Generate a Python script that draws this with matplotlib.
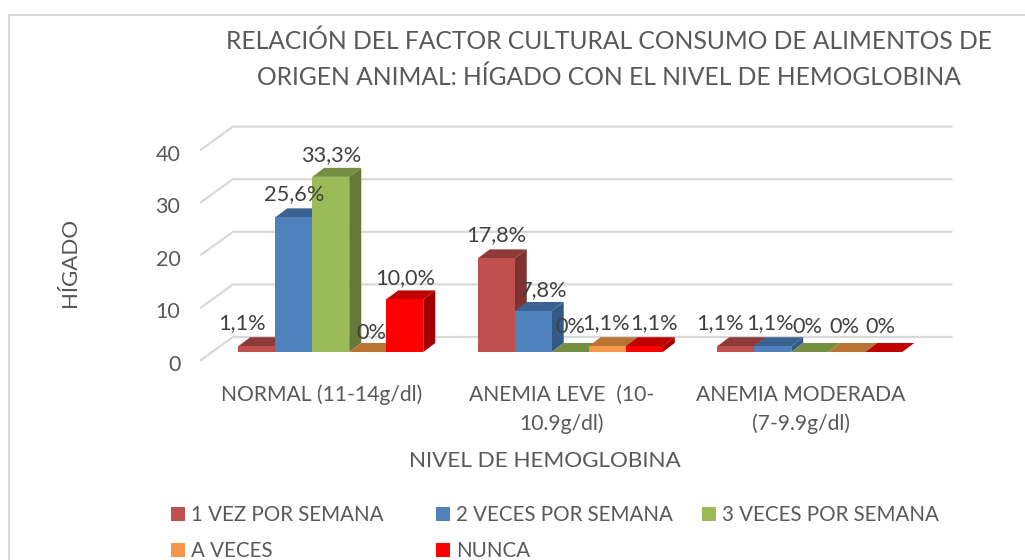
import matplotlib
matplotlib.use('Agg')
import matplotlib.pyplot as plt
from matplotlib.patches import Polygon, Rectangle, Patch
from matplotlib.transforms import ScaledTranslation

categories = ['NORMAL (11-14g/dl)', 'ANEMIA LEVE  (10-\n10.9g/dl)', 'ANEMIA MODERADA\n(7-9.9g/dl)']
series_names = ['1 VEZ POR SEMANA', '2 VECES POR SEMANA', '3 VECES POR SEMANA', 'A VECES', 'NUNCA']
una_vez = [1.1, 17.8, 1.1]
dos_veces = [25.6, 7.8, 1.1]
tres_veces = [33.3, 0, 0]
a_veces = [0, 1.1, 0]
nunca = [10.0, 1.1, 0]
y_ticks = [0, 10, 20, 30, 40]

# front, top, side
colors = [('#C0504D', '#8E3A38', '#7E3331'),
          ('#4F81BD', '#3B6391', '#335A86'),
          ('#9BBB59', '#748E42', '#64793A'),
          ('#F79646', '#B97332', '#A8652C'),
          ('#FF0000', '#C00000', '#A00000')]

# hand placed data labels, pixels from the top centre of each bar (series, group)
label_dx = [[-15, 0, -16], [0, 10, -3], [0, 0, -2], [4, -1, -2], [0, 10, -3]]
label_dy = [[23, 23, 23], [23, 21, 23], [22, 25, 25], [19, 23, 25], [21, 23, 25]]

# legend columns, left edge in pixels
legend_cols = [(171, [0, 3]), (436, [1, 4]), (702, [2])]

W, H = 1025, 560
px_x = 239.5   # pixels per category
px_y = 5.26    # pixels per value unit
bar_w = 37 / px_x


def dx(p):
    return p / px_x


def dy(p):
    return p / px_y


def fmt(v):
    if v == 0:
        return '0%'
    return ('%.1f%%' % v).replace('.', ',')


def main():
    plt.rcParams['font.family'] = ['Lato', 'DejaVu Sans']
    fig = plt.figure(figsize=(W / 100, H / 100), dpi=100)
    # value 0 sits at y=352, first category edge at x=211
    ax = fig.add_axes([211 / W, (H - 352) / H, 718.5 / W, 40 * px_y / H])
    ax.set_xlim(-0.5, 2.5)
    ax.set_ylim(0, 40)
    for s in ax.spines.values():
        s.set_visible(False)

    # chart frame, only its top and left edges are inside the picture
    fig.add_artist(Rectangle((8.5 / W, -0.1), 1.1, 1.1 - 14.5 / H, fill=False,
                             ec='#D9D9D9', lw=1.5, transform=fig.transFigure))

    # walls and floor
    for t in y_ticks:
        ax.plot([-0.5 + dx(-10), -0.5 + dx(22), 2.5 + dx(22)],
                [t - dy(8), t + dy(15), t + dy(15)],
                color='#D9D9D9', lw=1.6, clip_on=False, zorder=1)

    all_series = [una_vez, dos_veces, tres_veces, a_veces, nunca]
    z = 2
    for g in range(len(categories)):
        for i, vals in enumerate(all_series):
            v = vals[g]
            x0 = g - 2.5 * bar_w + i * bar_w
            x1 = x0 + bar_w
            front, top, side = colors[i]
            ax.add_patch(Polygon([(x0, v), (x0 + dx(12), v + dy(9)), (x1 + dx(12), v + dy(9)), (x1, v)],
                                 fc=top, ec='none', clip_on=False, zorder=z))
            ax.add_patch(Polygon([(x1, 0), (x1 + dx(12), dy(9)), (x1 + dx(12), v + dy(9)), (x1, v)],
                                 fc=side, ec='none', clip_on=False, zorder=z))
            if v > 0:
                ax.bar(x0, v, bar_w, align='edge', color=front, clip_on=False, zorder=z + 0.5)
            z += 1

    for g in range(len(categories)):
        for i, vals in enumerate(all_series):
            v = vals[g]
            x = g - 2 * bar_w + i * bar_w
            ax.annotate(fmt(v), (x, v), xytext=(label_dx[i][g] * 0.72, label_dy[i][g] * 0.72),
                        textcoords='offset points', ha='center', va='center',
                        fontsize=15.7, color='#404040', zorder=100, annotation_clip=False)

    ax.set_yticks(y_ticks)
    ax.set_yticklabels([str(t) for t in y_ticks], fontsize=15.5, color='#595959')
    ax.set_xticks(range(len(categories)))
    ax.set_xticklabels(categories, fontsize=15.2, color='#595959', linespacing=1.5)
    ax.tick_params(length=0)
    ax.tick_params(axis='y', pad=22)
    ax.tick_params(axis='x', pad=23.5)
    for lab in ax.get_yticklabels():
        lab.set_transform(lab.get_transform() + ScaledTranslation(0, -0.11, fig.dpi_scale_trans))
    for lab in ax.get_xticklabels():
        lab.set_transform(lab.get_transform() + ScaledTranslation(-0.09, 0, fig.dpi_scale_trans))

    ax.set_title('RELACIÓN DEL FACTOR CULTURAL CONSUMO DE ALIMENTOS DE\nORIGEN ANIMAL: HÍGADO CON EL NIVEL DE HEMOGLOBINA',
                 x=(609 - 211) / 718.5, y=(352 - 67.5) / 210.4, va='center',
                 fontsize=17.76, color='#595959', linespacing=1.66)
    ax.set_xlabel('NIVEL DE HEMOGLOBINA', fontsize=16.2, color='#595959')
    ax.xaxis.set_label_coords((545 - 211) / 718.5, (352 - 461) / 210.4)
    ax.xaxis.label.set_va('center')
    ax.set_ylabel('HÍGADO', fontsize=16, color='#595959')
    ax.yaxis.set_label_coords((70 - 211) / 718.5, (352 - 262) / 210.4)
    ax.yaxis.label.set_va('center')

    for left, idx in legend_cols:
        handles = [Patch(fc=colors[i][0], label=series_names[i]) for i in idx]
        fig.legend(handles=handles, loc='upper left', bbox_to_anchor=(left / W, (H - 505) / H),
                   frameon=False, fontsize=14.8, labelcolor='#595959', handlelength=0.68, handleheight=0.68,
                   handletextpad=0.28, labelspacing=0.78, borderpad=0, borderaxespad=0)

    fig.savefig('out.png', dpi=100)


if __name__ == '__main__':
    main()
